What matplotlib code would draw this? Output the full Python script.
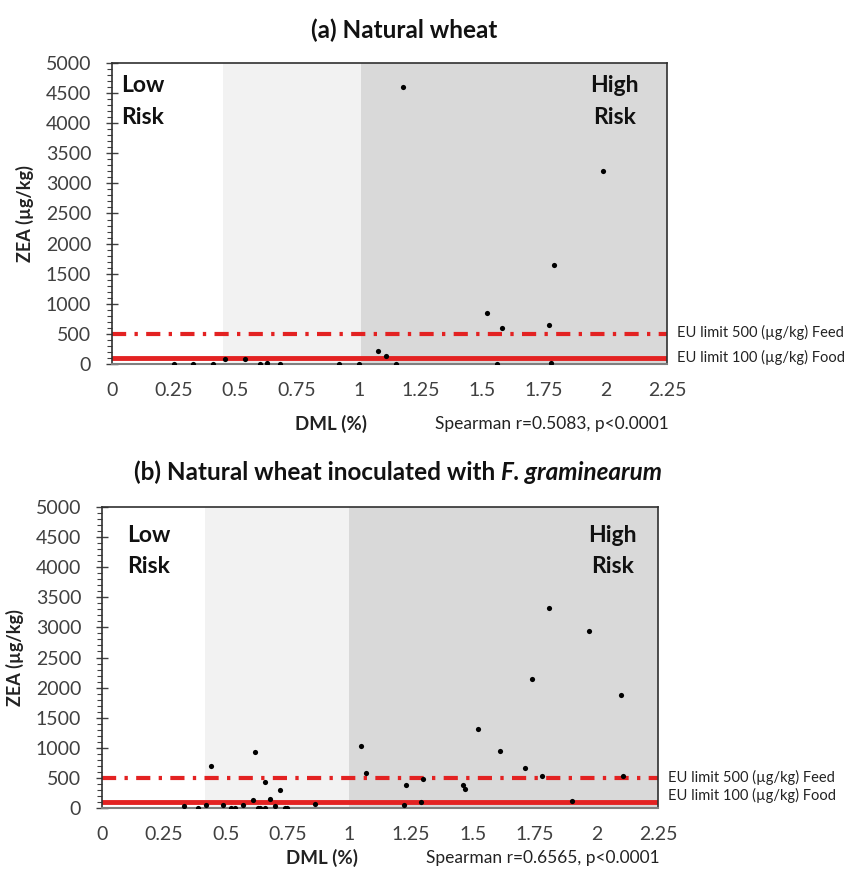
import matplotlib.pyplot as plt
from matplotlib.ticker import MultipleLocator, FuncFormatter

plt.rcParams['font.family'] = ['Lato', 'DejaVu Sans']

# (a) natural wheat: DML (%) vs ZEA (ug/kg)
nat_dml = [0.25, 0.33, 0.41, 0.46, 0.54, 0.60, 0.63, 0.68, 0.92, 1.00, 1.08,
           1.11, 1.15, 1.18, 1.52, 1.56, 1.58, 1.77, 1.78, 1.79, 1.99]
nat_zea = [0, 0, 0, 90, 90, 0, 10, 0, 0, 0, 210,
           140, 0, 4600, 850, 0, 590, 650, 10, 1650, 3200]

# (b) natural wheat inoculated with F. graminearum
inoc_dml = [0.33, 0.39, 0.42, 0.44, 0.49, 0.52, 0.54, 0.57, 0.61, 0.62,
            0.63, 0.64, 0.66, 0.66, 0.68, 0.70, 0.72, 0.74, 0.75, 0.86,
            1.05, 1.07, 1.22, 1.23, 1.29, 1.30, 1.46, 1.47, 1.52, 1.61,
            1.71, 1.74, 1.78, 1.81, 1.90, 1.97, 2.10, 2.11]
inoc_zea = [30, 5, 55, 705, 45, 0, 0, 55, 140, 925,
            0, 0, 0, 435, 155, 40, 295, 0, 0, 75,
            1030, 585, 45, 380, 95, 480, 380, 315, 1310, 950,
            660, 2150, 540, 3330, 115, 2940, 1880, 540]

# EU limits and risk zone boundaries (DML %)
eu_feed = 500
eu_food = 100
bounds_a = (0.45, 1.01)
bounds_b = (0.415, 1.0)

title_a = "(a) Natural wheat"
title_b = "(b) Natural wheat inoculated with "
title_b_italic = "F. graminearum"
spearman_a = "Spearman r=0.5083, p<0.0001"
spearman_b = "Spearman r=0.6565, p<0.0001"

RED = '#e32222'
LIGHT = '#f2f2f2'
DARK = '#d9d9d9'
TXT = '#404040'


def draw_panel(ax, dml, zea, bounds, spearman, low_x, high_x, risk_y, eu_y, lab_y):
    lo, hi = bounds
    ax.axvspan(lo, hi, color=LIGHT, lw=0, zorder=0)
    ax.axvspan(hi, 2.25, color=DARK, lw=0, zorder=0)

    ax.axhline(eu_feed, color=RED, lw=3, dashes=(3.4, 2.0, 0.8, 2.0), zorder=2)
    ax.axhline(eu_food, color=RED, lw=3.5, zorder=2)
    ax.scatter(dml, zea, s=14, color='black', linewidths=0, zorder=4)

    ax.set_xlim(0, 2.25)
    ax.set_ylim(0, 5000)
    ax.xaxis.set_major_locator(MultipleLocator(0.25))
    ax.xaxis.set_major_formatter(FuncFormatter(lambda v, p: f"{v:g}"))
    ax.yaxis.set_major_locator(MultipleLocator(500))
    ax.yaxis.set_minor_locator(MultipleLocator(100))

    ax.tick_params(axis='x', length=0, pad=13, labelsize=14, labelcolor=TXT)
    ax.tick_params(axis='y', which='major', direction='inout', length=8, width=1,
                   color=TXT, pad=11, labelsize=14, labelcolor=TXT)
    ax.tick_params(axis='y', which='minor', direction='out', length=3.5, width=0.8, color=TXT)

    for side in ['top', 'left', 'right']:
        ax.spines[side].set_color('#303030')
        ax.spines[side].set_linewidth(1.2)
    ax.spines['bottom'].set_color('#7f7f7f')
    ax.spines['bottom'].set_linewidth(1.5)

    # risk labels
    for x, ha, words in [(low_x, 'left', ("Low", "Risk")), (high_x, 'center', ("High", "Risk"))]:
        for y, w in zip(risk_y, words):
            ax.text(x, y, w, transform=ax.transAxes, ha=ha, va='center',
                    fontsize=16.5, fontweight='bold', color='#111111')

    # EU limit labels
    ax.text(1.018, eu_y[0], "EU limit 500 (µg/kg) Feed", transform=ax.transAxes,
            ha='left', va='center', fontsize=10.5, color='#222222')
    ax.text(1.018, eu_y[1], "EU limit 100 (µg/kg) Food", transform=ax.transAxes,
            ha='left', va='center', fontsize=10.5, color='#222222')

    ax.set_ylabel("ZEA (µg/kg)", fontsize=13, fontweight='bold', color='#222222')
    ax.yaxis.set_label_coords(-0.14, 0.5)
    ax.text(0.395, lab_y, "DML (%)", transform=ax.transAxes, ha='center', va='center',
            fontsize=13.5, fontweight='bold', color='#222222')
    ax.text(0.582, lab_y, spearman, transform=ax.transAxes, ha='left', va='center',
            fontsize=12.5, color='#222222')


fig = plt.figure(figsize=(8.48, 8.71), dpi=100)
ax_a = fig.add_axes([0.1321, 0.5821, 0.6545, 0.3456])
ax_b = fig.add_axes([0.1203, 0.0723, 0.6557, 0.3456])

draw_panel(ax_a, nat_dml, nat_zea, bounds_a, spearman_a,
           low_x=0.016, high_x=0.906, risk_y=(0.924, 0.82), eu_y=(0.106, 0.023), lab_y=-0.2)
draw_panel(ax_b, inoc_dml, inoc_zea, bounds_b, spearman_b,
           low_x=0.045, high_x=0.918, risk_y=(0.906, 0.803), eu_y=(0.10, 0.043), lab_y=-0.165)

fig.text(0.4764, 0.9656, title_a, ha='center', va='center', fontsize=17.5,
         fontweight='bold', color='#111111')
t_b = fig.text(0.158, 0.4581, title_b, ha='left', va='center', fontsize=17.5,
               fontweight='bold', color='#111111')
ax_b.annotate(title_b_italic, xy=(1, 0), xycoords=t_b, va='bottom', ha='left',
              fontsize=17.5, fontweight='bold', style='italic', color='#111111',
              annotation_clip=False)

fig.savefig("out.png", dpi=100)
